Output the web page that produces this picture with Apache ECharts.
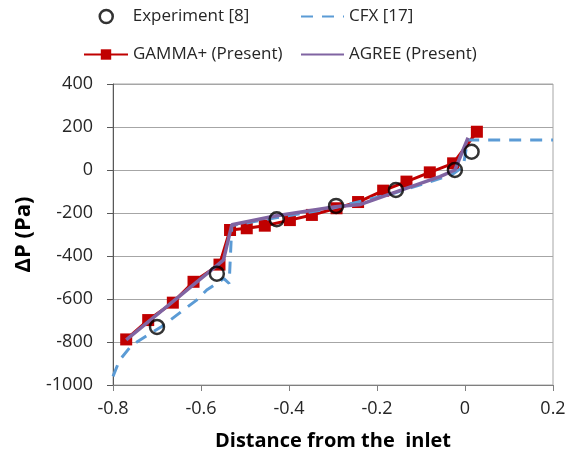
<!DOCTYPE html>
<html>
<head>
<meta charset="utf-8">
<script src="https://cdn.jsdelivr.net/npm/echarts@6/dist/echarts.min.js"></script>
<style>
html,body{margin:0;padding:0;background:#fff;}
#chart{width:570px;height:456px;}
</style>
</head>
<body>
<div id="chart"></div>
<script>
// ---- data ----
var experimentX = [-0.700, -0.564, -0.428, -0.293, -0.157, -0.023, 0.015];
var experimentY = [-730, -482, -229, -167, -93, 0, 85];

var cfxX = [-0.800, -0.785, -0.757, -0.690, -0.610, -0.587, -0.548, -0.536, -0.530, -0.430, -0.300, -0.160, -0.030, -0.004, 0.006, 0.200];
var cfxY = [-960, -884, -814, -729, -605, -558, -505, -528, -258, -222, -177, -107, -22, 15, 140, 140];

var gammaX = [-0.770, -0.720, -0.664, -0.617, -0.558, -0.534, -0.496, -0.455, -0.398, -0.348, -0.292, -0.243, -0.186, -0.133, -0.080, -0.027, 0.027];
var gammaY = [-788, -698, -617, -520, -440, -279, -271, -259, -233, -209, -178, -149, -96, -54, -11, 31, 178];

var agreeX = [-0.770, -0.549, -0.530, -0.432, -0.295, -0.237, -0.155, -0.057, -0.023, 0.007];
var agreeY = [-790, -419, -255, -214, -171, -160, -101, -31, 0, 150];

var xTicks = {min: -0.8, max: 0.2, interval: 0.2};
var yTicks = {min: -1000, max: 400, interval: 200};

var names = ['Experiment [8]', 'CFX [17]', 'GAMMA+ (Present)', 'AGREE (Present)'];

function pairs(xs, ys) { return xs.map(function (x, i) { return [x, ys[i]]; }); }

var FONT = 'Open Sans';
var TXT = '#262626';

function lg(name, left, top, w, h, extra) {
  var o = {
    orient: 'horizontal', padding: 0, itemGap: 0, selectedMode: false,
    textStyle: {fontFamily: FONT, fontSize: 17, color: TXT},
    data: [name], left: left, top: top, itemWidth: w, itemHeight: h
  };
  return Object.assign(o, extra || {});
}

var chart = echarts.init(document.getElementById('chart'), null, {renderer: 'canvas'});
chart.setOption({
  animation: false,
  backgroundColor: '#fff',
  legend: [
    lg(names[0], 98.5, 8, 13, 13, {
      icon: 'circle',
      itemStyle: {color: 'rgba(255,255,255,0)', borderColor: '#000', borderWidth: 2.5},
      textStyle: {fontFamily: FONT, fontSize: 17, color: TXT, padding: [0, 0, 0, 15]}
    }),
    lg(names[1], 300, 8, 43, 13, {itemStyle: {opacity: 0}}),
    lg(names[2], 83, 46, 44, 13),
    lg(names[3], 300, 46, 43, 13, {itemStyle: {opacity: 0}})
  ],
  grid: {left: 113, right: 17, top: 84, bottom: 71, show: true, borderColor: '#a6a6a6', borderWidth: 1, containLabel: false},
  xAxis: {
    type: 'value', min: xTicks.min, max: xTicks.max, interval: xTicks.interval,
    name: 'Distance from the  inlet', nameLocation: 'middle', nameGap: 46,
    nameTextStyle: {fontFamily: FONT, fontSize: 20, fontWeight: 'bold', color: '#000'},
    axisLine: {onZero: false, lineStyle: {color: '#7f7f7f', width: 1}},
    axisTick: {show: true, inside: false, length: 6, lineStyle: {color: '#7f7f7f'}},
    axisLabel: {fontFamily: FONT, fontSize: 18, color: TXT, margin: 15},
    splitLine: {show: false}
  },
  yAxis: {
    type: 'value', min: yTicks.min, max: yTicks.max, interval: yTicks.interval,
    name: 'ΔP (Pa)', nameLocation: 'middle', nameGap: 78, nameRotate: 90,
    nameTextStyle: {fontFamily: FONT, fontSize: 22, fontWeight: 'bold', color: '#000'},
    axisLine: {show: true, onZero: false, lineStyle: {color: '#595959', width: 1}},
    axisTick: {show: true, inside: false, length: 6, lineStyle: {color: '#595959'}},
    axisLabel: {fontFamily: FONT, fontSize: 18, color: TXT, margin: 20,
      formatter: function (v) { return String(v); }},
    splitLine: {show: true, lineStyle: {color: '#a6a6a6', width: 1}}
  },
  series: [
    {
      name: names[2], type: 'line', data: pairs(gammaX, gammaY),
      symbol: 'rect', symbolSize: 12, showSymbol: true,
      lineStyle: {color: '#c00000', width: 3},
      itemStyle: {color: '#c00000'}, z: 2
    },
    {
      name: names[1], type: 'line', data: pairs(cfxX, cfxY),
      symbol: 'none', showSymbol: false,
      lineStyle: {color: '#5b9bd5', width: 3, type: [12, 9]},
      itemStyle: {color: '#5b9bd5'}, z: 3
    },
    {
      name: names[3], type: 'line', data: pairs(agreeX, agreeY),
      symbol: 'none', showSymbol: false,
      lineStyle: {color: '#8064a2', width: 3.5},
      itemStyle: {color: '#8064a2'}, z: 4
    },
    {
      name: names[0], type: 'scatter', data: pairs(experimentX, experimentY),
      symbol: 'circle', symbolSize: 14,
      itemStyle: {color: 'rgba(255,255,255,0)', borderColor: '#000', borderWidth: 2.5}, z: 5
    }
  ]
});
</script>
</body>
</html>
